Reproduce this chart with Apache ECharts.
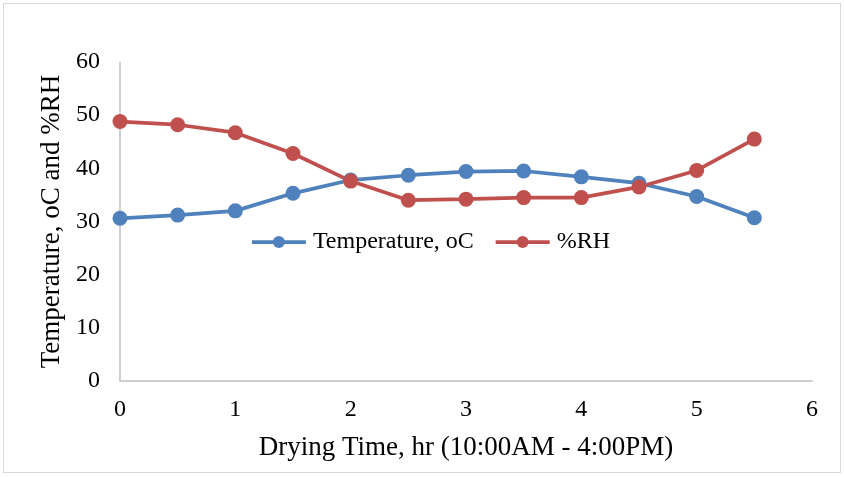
<!DOCTYPE html>
<html>
<head>
<meta charset="utf-8">
<script src="https://cdn.jsdelivr.net/npm/echarts@6/dist/echarts.min.js"></script>
<style>
html, body { margin: 0; padding: 0; background: #fff; }
#chart { width: 844px; height: 477px; }
#frame { position: absolute; left: 3px; top: 3px; width: 836px; height: 468px; border: 1px solid #d9d9d9; pointer-events: none; }
</style>
</head>
<body>
<div id="chart"></div>
<div id="frame"></div>
<script>
// 干燥时间 (hr)
var hours = [0, 0.5, 1, 1.5, 2, 2.5, 3, 3.5, 4, 4.5, 5, 5.5];
var temperature = [30.6, 31.2, 32.0, 35.3, 37.8, 38.7, 39.4, 39.5, 38.4, 37.2, 34.7, 30.7];
var humidity = [48.8, 48.2, 46.7, 42.8, 37.6, 34.0, 34.2, 34.5, 34.5, 36.5, 39.6, 45.5];

var font = 'Liberation Serif, Times New Roman, serif';

function pairs(ys) {
    return hours.map(function (h, i) { return [h, ys[i]]; });
}

var myChart = echarts.init(document.getElementById('chart'));
var option = {
    animation: false,
    grid: {
        left: 120,
        right: 32,
        top: 62,
        bottom: 96
    },
    legend: {
        data: ['Temperature, oC', '%RH'],
        left: 245,
        top: 225,
        itemWidth: 54,
        itemHeight: 15,
        itemGap: 20,
        lineStyle: { width: 3.75 },
        textStyle: {
            fontFamily: font,
            fontSize: 24,
            color: '#000',
            padding: [0, 0, 0, 2]
        }
    },
    xAxis: {
        type: 'value',
        min: 0,
        max: 6,
        interval: 1,
        name: 'Drying Time, hr (10:00AM - 4:00PM)',
        nameLocation: 'middle',
        nameGap: 53,
        nameTextStyle: { fontFamily: font, fontSize: 27, color: '#000' },
        axisLine: { lineStyle: { color: '#bfbfbf', width: 1.5 } },
        axisTick: { show: false },
        splitLine: { show: false },
        axisLabel: { fontFamily: font, fontSize: 24, color: '#000', margin: 17 }
    },
    yAxis: {
        type: 'value',
        min: 0,
        max: 60,
        interval: 10,
        name: 'Temperature, oC and %RH',
        nameLocation: 'middle',
        nameGap: 50,
        nameTextStyle: { fontFamily: font, fontSize: 27, color: '#000' },
        axisLine: { show: true, lineStyle: { color: '#bfbfbf', width: 1.5 } },
        axisTick: { show: false },
        splitLine: { show: false },
        axisLabel: { fontFamily: font, fontSize: 24, color: '#000', margin: 20 }
    },
    series: [{
        name: 'Temperature, oC',
        type: 'line',
        data: pairs(temperature),
        symbol: 'circle',
        symbolSize: 15,
        color: '#4f81bd',
        lineStyle: { width: 3.75, color: '#4f81bd' }
    }, {
        name: '%RH',
        type: 'line',
        data: pairs(humidity),
        symbol: 'circle',
        symbolSize: 15,
        color: '#c0504d',
        lineStyle: { width: 3.75, color: '#c0504d' }
    }]
};
myChart.setOption(option);

window.onresize = function () {
    myChart.resize();
};
</script>
</body>
</html>
